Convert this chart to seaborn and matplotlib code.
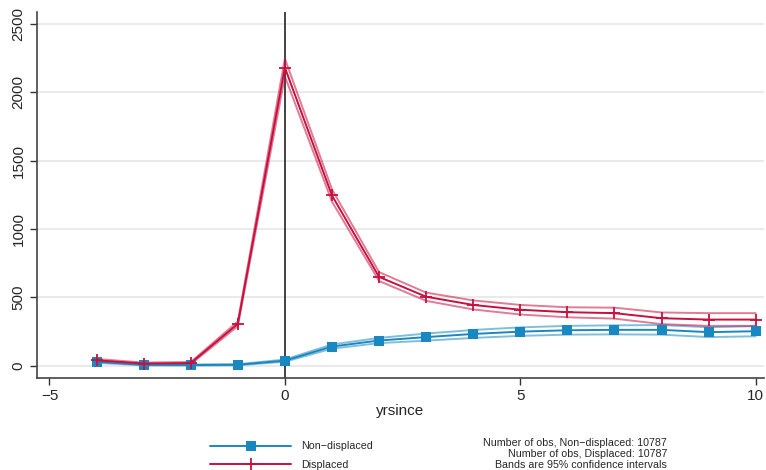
import pandas as pd
import numpy as np
import matplotlib
matplotlib.use("Agg")
import matplotlib.pyplot as plt
import seaborn as sns
from matplotlib.lines import Line2D

# Data #
years = [-4, -3, -2, -1, 0, 1, 2, 3, 4, 5, 6, 7, 8, 9, 10]

nondisp = [30, 8, 6, 8, 38, 141, 185, 210, 233, 250, 260, 263, 263, 246, 253]
nondisp_lo = [22, 3, 2, 4, 30, 126, 166, 184, 204, 219, 228, 230, 228, 210, 216]
nondisp_hi = [38, 13, 10, 12, 46, 156, 204, 236, 262, 281, 292, 296, 298, 282, 290]

disp = [40, 17, 20, 307, 2180, 1245, 650, 505, 445, 410, 392, 385, 348, 338, 338]
disp_lo = [30, 10, 12, 290, 2115, 1200, 620, 475, 412, 375, 355, 345, 305, 292, 292]
disp_hi = [50, 24, 28, 324, 2245, 1290, 685, 535, 478, 445, 428, 425, 390, 385, 385]

n_nondisp = 10787
n_disp = 10787

blue = "#1a88c0"
red = "#c8103e"

df = pd.DataFrame({"yrsince": years,
                   "nondisp": nondisp, "nondisp_lo": nondisp_lo, "nondisp_hi": nondisp_hi,
                   "disp": disp, "disp_lo": disp_lo, "disp_hi": disp_hi})

sns.set_style("white")
plt.rcParams["font.family"] = ["Liberation Sans", "DejaVu Sans"]

fig = plt.figure(figsize=(7.66, 4.70), dpi=100)
ax = fig.add_axes([0.048, 0.196, 0.949, 0.778])

# horizontal grid
for yv in range(0, 2501, 500):
    ax.axhline(yv, color="#e6e6e6", lw=1.2, zorder=0)
ax.axvline(0, color="#222222", lw=1.2, zorder=1)

# confidence bands (drawn as outline lines)
for col, c in [("nondisp_lo", blue), ("nondisp_hi", blue), ("disp_lo", red), ("disp_hi", red)]:
    sns.lineplot(data=df, x="yrsince", y=col, ax=ax, color=c, lw=1.4, alpha=0.55, zorder=2)

sns.lineplot(data=df, x="yrsince", y="nondisp", ax=ax, color=blue, lw=1.4,
             marker="s", markersize=6.5, markeredgewidth=0, markeredgecolor=blue, zorder=3)
sns.lineplot(data=df, x="yrsince", y="disp", ax=ax, color=red, lw=1.4,
             marker="+", markersize=8, markeredgewidth=1.3, markeredgecolor=red, zorder=4)

ax.set_xlim(-5.27, 10.17)
ax.set_ylim(-88, 2584)
ax.set_xticks([-5, 0, 5, 10])
ax.set_xticklabels(["\u22125", "0", "5", "10"])
ax.set_yticks(range(0, 2501, 500))
ax.set_yticklabels([str(v) for v in range(0, 2501, 500)], rotation=90, va="center")
ax.tick_params(axis="both", labelsize=11, length=5, width=1, color="#333333", pad=3,
               bottom=True, left=True)
ax.set_xlabel("yrsince", fontsize=11, labelpad=1)
ax.set_ylabel("")

for s in ["top", "right"]:
    ax.spines[s].set_visible(False)
for s in ["left", "bottom"]:
    ax.spines[s].set_color("#444444")
    ax.spines[s].set_linewidth(1.2)

handles = [Line2D([], [], color=blue, lw=1.4, marker="s", markersize=6.5, markeredgewidth=0),
           Line2D([], [], color=red, lw=1.4, marker="+", markersize=8, markeredgewidth=1.3)]
fig.legend(handles, ["Non\u2212displaced", "Displaced"], loc="upper left",
           bbox_to_anchor=(0.274, 0.061), frameon=False, fontsize=7.7,
           handlelength=7.6, handletextpad=0.9, labelspacing=0.82, borderaxespad=0,
           borderpad=0)

fig.text(0.871, 0.057, f"Number of obs, Non\u2212displaced: {n_nondisp}", ha="right",
         va="center", fontsize=7.7)
fig.text(0.871, 0.034, f"Number of obs, Displaced: {n_disp}", ha="right", va="center",
         fontsize=7.7)
fig.text(0.871, 0.011, "Bands are 95% confidence intervals", ha="right", va="center",
         fontsize=7.7)

fig.savefig("out.png", dpi=100)
